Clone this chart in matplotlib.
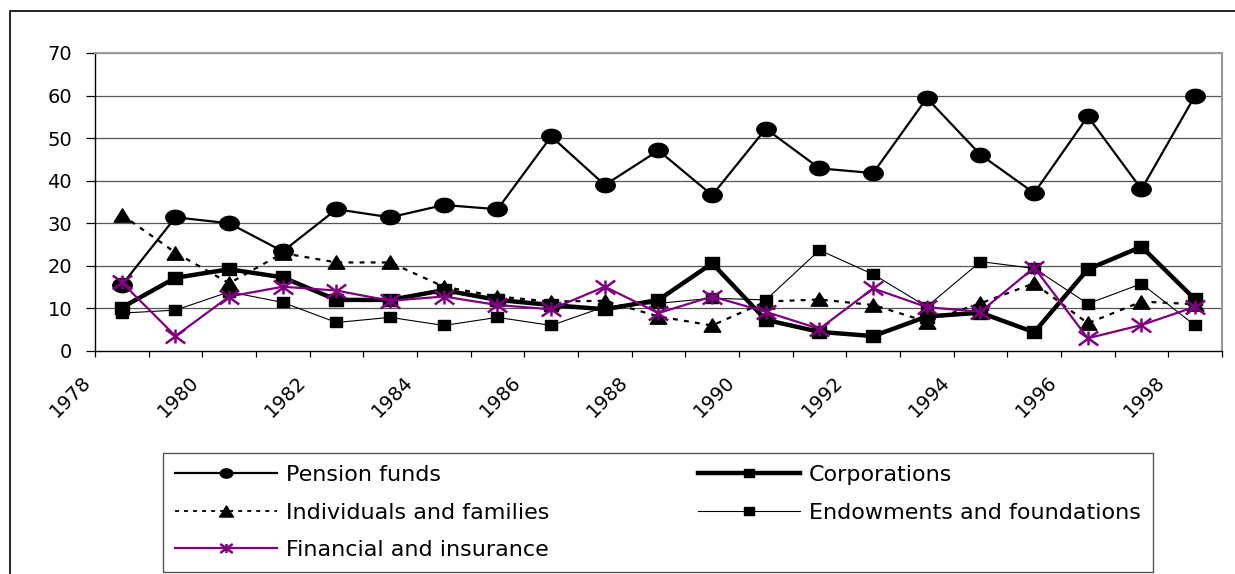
import numpy as np
import matplotlib
matplotlib.use("Agg")
import matplotlib.pyplot as plt
from matplotlib.path import Path
from matplotlib.patches import Rectangle

# ---------------- data ----------------
years = list(range(1978, 1999))
tick_years = list(range(1978, 2000))
label_years = list(range(1978, 1999, 2))

pension = [15.5, 31.4, 30.0, 23.4, 33.3, 31.4, 34.3, 33.3, 50.4, 39.0, 47.1,
           36.6, 52.2, 42.9, 41.8, 59.4, 46.1, 37.1, 55.1, 38.0, 60.0]
corporations = [10.2, 17.2, 19.2, 17.3, 12.0, 12.0, 14.3, 12.0, 10.8, 9.8, 12.0,
                20.6, 7.3, 4.5, 3.5, 8.1, 9.0, 4.4, 19.2, 24.5, 12.1]
individuals = [32.0, 23.1, 15.9, 23.0, 20.8, 20.8, 15.1, 12.8, 11.6, 11.8, 8.1,
               6.0, 11.6, 12.1, 10.8, 6.9, 11.2, 15.9, 6.5, 11.6, 11.0]
endowments = [8.9, 9.6, 13.9, 11.4, 6.7, 7.9, 6.0, 7.9, 6.0, 10.4, 11.2,
              12.4, 12.0, 23.7, 18.0, 10.4, 21.0, 19.4, 11.1, 15.8, 6.0]
financial = [16.1, 3.5, 12.8, 15.1, 14.2, 11.8, 12.8, 10.8, 9.8, 15.1, 8.9,
             12.8, 9.2, 5.2, 14.7, 10.3, 9.2, 19.6, 3.0, 6.1, 10.4]

labels = ["Pension funds", "Corporations", "Individuals and families",
          "Endowments and foundations", "Financial and insurance"]

# ---------------- custom (horizontally stretched) markers ----------------
t = np.linspace(0, 2 * np.pi, 48)
ellipse = Path(np.column_stack([np.cos(t), 0.74 * np.sin(t)]), closed=True)
rect = Path([(-1, -0.85), (1, -0.85), (1, 0.85), (-1, 0.85), (-1, -0.85)], closed=True)
tri = Path([(-1, -0.8), (1, -0.8), (0, 0.8), (-1, -0.8)], closed=True)
star = Path([(0, -0.72), (0, 0.72), (-1, -0.72), (1, 0.72), (-1, 0.72), (1, -0.72)],
            [Path.MOVETO, Path.LINETO, Path.MOVETO, Path.LINETO, Path.MOVETO, Path.LINETO])

plt.rcParams['font.family'] = ['DejaVu Sans']

W, H = 1235, 574
fig = plt.figure(figsize=(W / 100, H / 100), dpi=100)
ax = fig.add_axes([95 / W, 1 - 351 / H, (1222 - 95) / W, (351 - 53) / H])

x = np.array(years) + 0.5
purple = '#800080'

l1, = ax.plot(x, pension, color='black', lw=1.6, marker=ellipse, ms=14,
              mfc='black', mec='black', label=labels[0], zorder=3)
l2, = ax.plot(x, corporations, color='black', lw=3.2, marker=rect, ms=9.5,
              mfc='black', mec='black', label=labels[1], zorder=4)
l3, = ax.plot(x, individuals, color='black', lw=1.6, ls=(0, (2.2, 2.8)), marker=tri,
              ms=12, mfc='black', mec='black', label=labels[2], zorder=5)
l4, = ax.plot(x, endowments, color='black', lw=0.8, marker=rect, ms=8.5,
              mfc='black', mec='black', label=labels[3], zorder=6)
l5, = ax.plot(x, financial, color=purple, lw=1.6, marker=star, ms=14,
              mfc='none', mec=purple, mew=1.8, label=labels[4], zorder=7)

ax.set_xlim(1978, 1999)
ax.set_ylim(0, 70)
ax.set_yticks(range(0, 71, 10))
ax.set_xticks(tick_years)
ax.set_xticklabels([str(y) if y in label_years else '' for y in tick_years],
                   rotation=45, ha='right', va='top', fontsize=14)
ax.tick_params(axis='y', direction='out', length=6.5, width=0.9, pad=10,
               labelsize=14, colors='black')
ax.tick_params(axis='x', direction='out', length=4.3, width=0.9, pad=11,
               colors='black')

for v in range(10, 71, 10):
    ax.axhline(v, color='#555555' if v < 70 else '#999999', lw=0.9, zorder=1)

ax.spines['left'].set_color('black')
ax.spines['bottom'].set_color('black')
ax.spines['left'].set_linewidth(1.0)
ax.spines['bottom'].set_linewidth(1.0)
ax.spines['top'].set_color('#999999')
ax.spines['right'].set_color('#999999')
ax.spines['top'].set_linewidth(1.5)
ax.spines['right'].set_linewidth(1.5)

# legend (column-major order)
handles = [l1, l3, l5, l2, l4]
leg = fig.legend(handles, [h.get_label() for h in handles], ncol=2,
                 loc='upper left',
                 bbox_to_anchor=(163 / W, 1 - 572 / H, (1153 - 163) / W, (572 - 453) / H),
                 mode='expand', borderaxespad=0, fontsize=16, handlelength=4.6,
                 handletextpad=0.4, labelspacing=0.78, borderpad=0.55,
                 fancybox=False, framealpha=1, edgecolor='#555555', numpoints=1)
leg.get_frame().set_linewidth(1.0)
small = {l1: 9, l2: 7, l3: 10, l4: 6.5, l5: 9}
for orig, lh in zip(handles, leg.get_lines()):
    lh.set_markersize(small[orig])
leg.get_lines()[1].set_linewidth(1.3)

# chart-area border (clipped at right and bottom)
fig.add_artist(Rectangle((10 / W, -0.1), 1.2, 1 - 11 / H + 0.1,
                         transform=fig.transFigure, fill=False,
                         edgecolor='black', lw=1.2, clip_on=False))

fig.savefig('out.png', dpi=100)
